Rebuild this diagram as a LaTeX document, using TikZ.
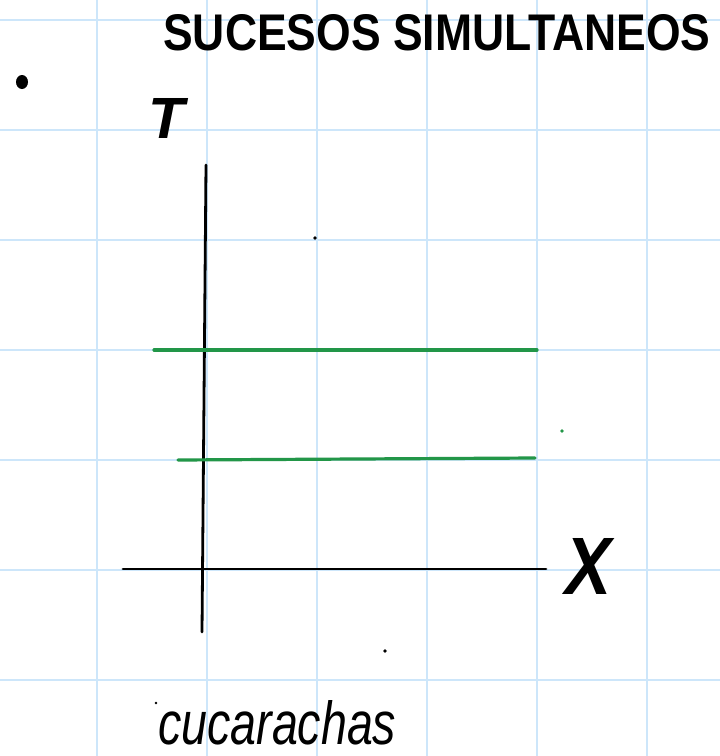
\documentclass[tikz,border=0pt]{standalone}
\usepackage{fontspec}
\usepackage{graphicx}
\setmainfont{Liberation Sans}
\definecolor{gridblue}{RGB}{205,230,250}
\definecolor{penGreen}{RGB}{34,150,72}
\tikzset{
  gridline/.style={draw=gridblue, line width=1.2pt},
  axisline/.style={draw=black, line width=2.8pt, line cap=round},
  greenline/.style={draw=penGreen, line width=3.2pt, line cap=round},
  handtext/.style={inner sep=0pt, text=black},
  inkdot/.style={fill=black},
}
\begin{document}
\begin{tikzpicture}[x=1pt,y=-1pt]
\useasboundingbox (0,0) rectangle (720,756);
\fill[white] (0,0) rectangle (720,756);
% grid
\foreach \gx in {97,207,317,427,537,647} {\draw[gridline] (\gx,0) -- (\gx,756);}
\foreach \gy in {20,130,240,350,460,570,680} {\draw[gridline] (0,\gy) -- (720,\gy);}
% title
\node[handtext, anchor=north west] (title) at (163,14) {\resizebox{547pt}{36pt}{\bfseries SUCESOS SIMULTANEOS}};
% bullet dot
\fill[inkdot] (22,82) ellipse (6 and 7) coordinate (bullet);
% axis labels
\node[handtext, anchor=north west] (T) at (148,98) {\resizebox{36pt}{40pt}{\bfseries\itshape T}};
\node[handtext, anchor=north west] (X) at (565,538) {\resizebox{46pt}{56pt}{\bfseries\itshape X}};
% axes
\coordinate (ttop) at (206,165);
\coordinate (tbot) at (202,632);
\coordinate (xleft) at (123,569);
\coordinate (xright) at (546,569);
\draw[axisline] (ttop) -- (tbot);
\draw[axisline] (xleft) -- (xright);
% green lines
\coordinate (g1l) at (154,350);
\coordinate (g1r) at (537,350);
\coordinate (g2l) at (178,460);
\coordinate (g2r) at (535,458);
\draw[greenline] (g1l) -- (g1r);
\draw[greenline] (g2l) -- (g2r);
% stray dots
\fill[inkdot] (315,238) circle (1.8) coordinate (d1);
\fill[inkdot] (385,651) circle (1.8) coordinate (d2);
\fill[penGreen] (562,431) circle (1.8) coordinate (d3);
\fill[inkdot] (156,703) circle (1.3) coordinate (d4);
% bottom text
\node[handtext, anchor=north west] (cuc) at (158,700) {\resizebox{238pt}{44pt}{\itshape cucarachas}};
\end{tikzpicture}
\end{document}
